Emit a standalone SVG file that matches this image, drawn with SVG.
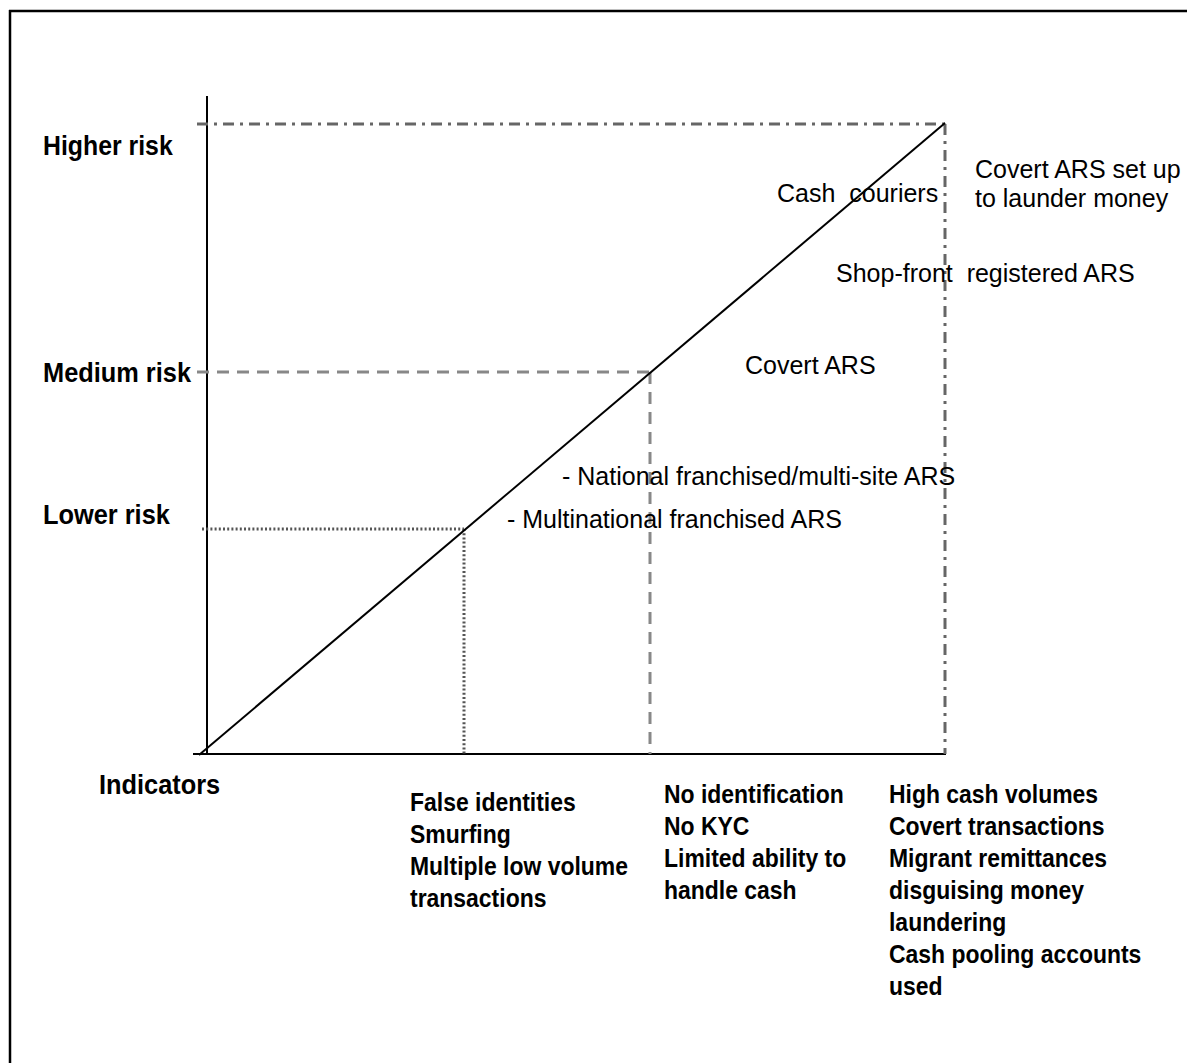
<svg xmlns="http://www.w3.org/2000/svg" width="1187" height="1063" viewBox="0 0 1187 1063">
<style>
.frame{stroke:#000;stroke-width:2.5;fill:none}
.axis{stroke:#000;stroke-width:2;fill:none}
.diag{stroke:#000;stroke-width:2;fill:none}
.dashdot{stroke:#666;stroke-width:3;fill:none;stroke-dasharray:11 6 3 6}
.dashed{stroke:#888;stroke-width:3;fill:none;stroke-dasharray:12 8}
.dotted{stroke:#555;stroke-width:3;fill:none;stroke-dasharray:2 2.2}
.lbl{font-family:"Liberation Sans",Arial,sans-serif;font-weight:bold;font-size:27px;fill:#000}
.ind{font-family:"Liberation Sans",Arial,sans-serif;font-weight:bold;font-size:25.5px;fill:#000}
.reg{font-family:"Liberation Sans",Arial,sans-serif;font-size:25px;fill:#000;white-space:pre}
</style>
<rect width="1187" height="1063" fill="#fff"/>
<g id="frame">
<line class="frame" x1="9" y1="11" x2="1187" y2="11"/>
<line class="frame" x1="10" y1="10" x2="10" y2="1063"/>
</g>
<g id="connectors">
<line class="axis" x1="207" y1="96" x2="207" y2="754"/>
<line class="axis" x1="193" y1="754" x2="946" y2="754"/>
<line class="dashdot" x1="197" y1="124" x2="945" y2="124"/>
<line class="dashdot" x1="945" y1="124" x2="945" y2="754"/>
<line class="dashed" x1="197" y1="372" x2="650" y2="372"/>
<line class="dashed" x1="650" y1="372" x2="650" y2="754"/>
<line class="dotted" x1="202" y1="529" x2="464" y2="529"/>
<line class="dotted" x1="464" y1="529" x2="464" y2="754"/>
<line class="diag" x1="199" y1="755" x2="945" y2="123"/>
</g>
<g id="label-higher"><g transform="translate(43,155) scale(0.92,1)"><text class="lbl" x="0" y="0">Higher risk</text></g></g>
<g id="label-medium"><g transform="translate(43,382) scale(0.94,1)"><text class="lbl" x="0" y="0">Medium risk</text></g></g>
<g id="label-lower"><g transform="translate(43,524) scale(0.94,1)"><text class="lbl" x="0" y="0">Lower risk</text></g></g>
<g id="label-indicators"><g transform="translate(99,794) scale(0.94,1)"><text class="lbl" x="0" y="0">Indicators</text></g></g>
<g id="node-cash-couriers"><text class="reg" x="777" y="202">Cash  couriers</text></g>
<g id="node-covert-set-up"><text class="reg" x="975" y="178">Covert ARS set up</text><text class="reg" x="975" y="207">to launder money</text></g>
<g id="node-shopfront"><text class="reg" x="836" y="282">Shop-front  registered ARS</text></g>
<g id="node-covert"><text class="reg" x="745" y="374">Covert ARS</text></g>
<g id="node-national"><text class="reg" x="562" y="485">- National franchised/multi-site ARS</text></g>
<g id="node-multinational"><text class="reg" x="507" y="528">- Multinational franchised ARS</text></g>
<g id="indicators-low"><g transform="translate(410,811) scale(0.9,1)"><text class="ind" x="0" y="0"><tspan x="0" dy="0">False identities</tspan><tspan x="0" dy="32">Smurfing</tspan><tspan x="0" dy="32">Multiple low volume</tspan><tspan x="0" dy="32">transactions</tspan></text></g></g>
<g id="indicators-medium"><g transform="translate(664,803) scale(0.9,1)"><text class="ind" x="0" y="0"><tspan x="0" dy="0">No identification</tspan><tspan x="0" dy="32">No KYC</tspan><tspan x="0" dy="32">Limited ability to</tspan><tspan x="0" dy="32">handle cash</tspan></text></g></g>
<g id="indicators-high"><g transform="translate(889,803) scale(0.9,1)"><text class="ind" x="0" y="0"><tspan x="0" dy="0">High cash volumes</tspan><tspan x="0" dy="32">Covert transactions</tspan><tspan x="0" dy="32">Migrant remittances</tspan><tspan x="0" dy="32">disguising money</tspan><tspan x="0" dy="32">laundering</tspan><tspan x="0" dy="32">Cash pooling accounts</tspan><tspan x="0" dy="32">used</tspan></text></g></g>
</svg>
